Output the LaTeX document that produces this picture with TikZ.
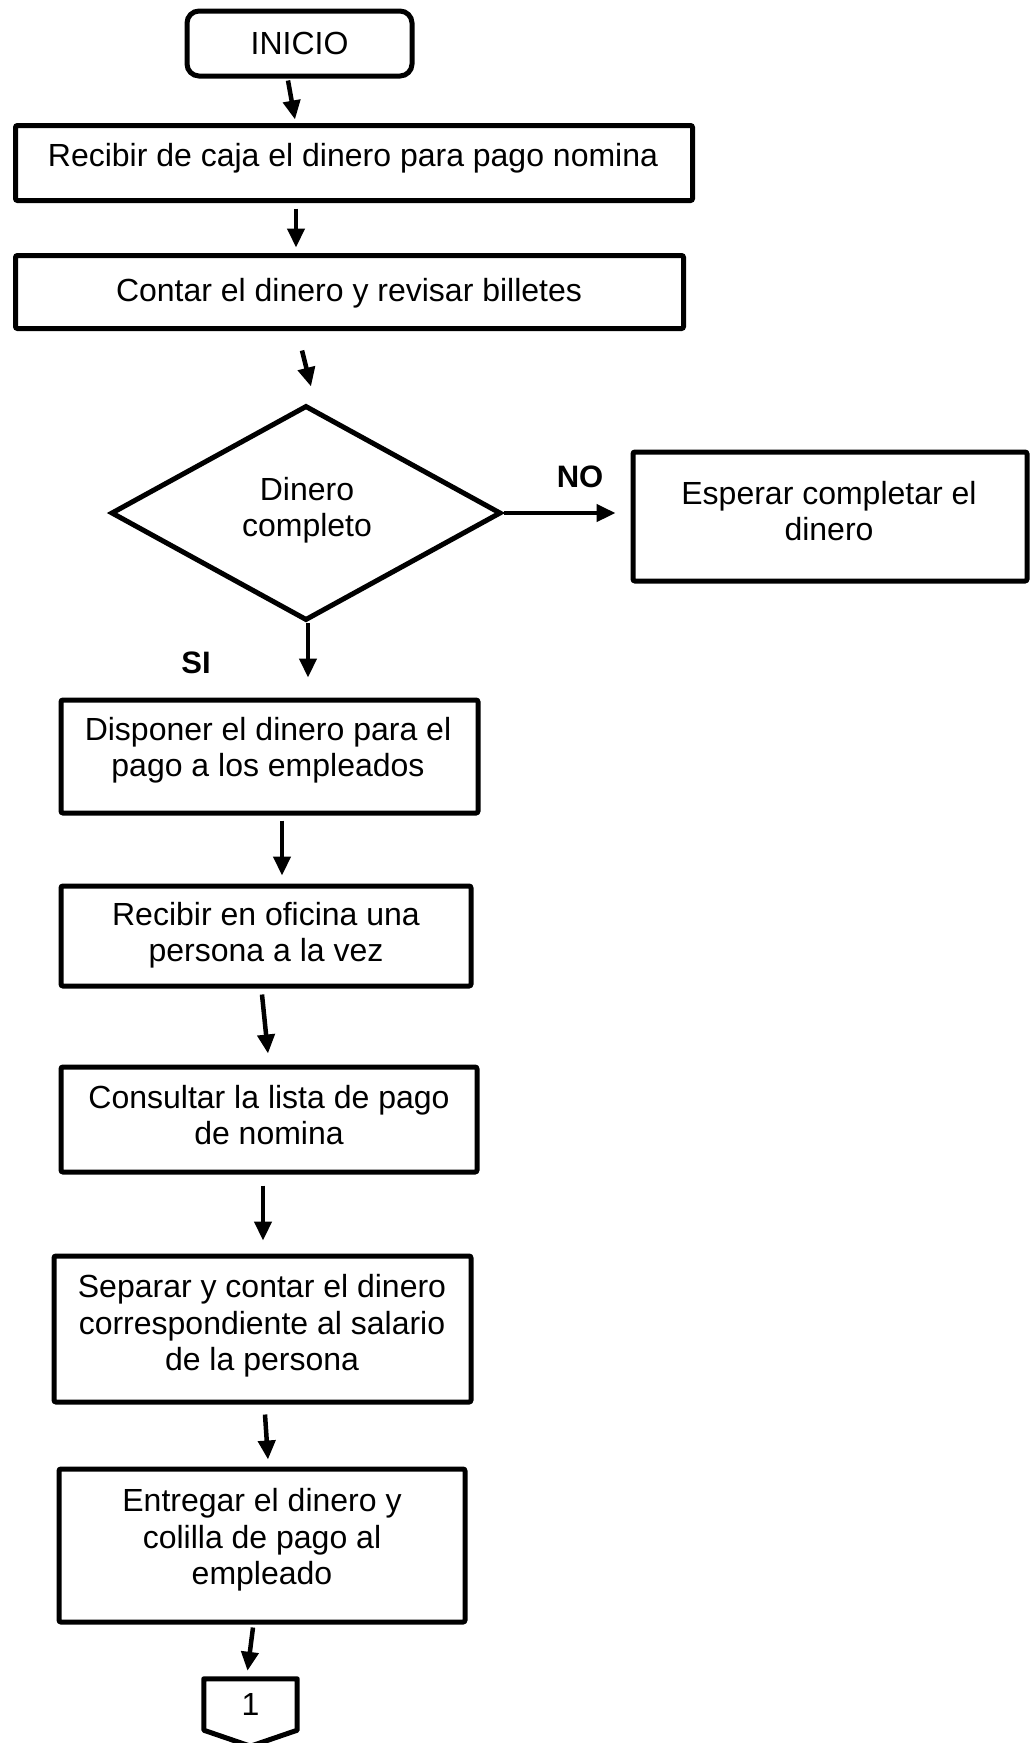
\documentclass[tikz,border=0pt]{standalone}
\usepackage{fontspec}
\setmainfont{Liberation Sans}
\usetikzlibrary{arrows.meta,shapes.geometric,calc}
\begin{document}
\begin{tikzpicture}[x=1pt,y=-1pt,
  every node/.style={font=\fontsize{32}{36.5}\selectfont},
  box/.style={draw, line width=5pt, rounded corners=2pt, inner sep=0pt},
  txt/.style={align=center, inner sep=0pt},
  lbl/.style={font=\fontsize{31}{36}\selectfont\bfseries, inner sep=0pt},
  flow/.style={line width=4.5pt, -{Triangle[length=19pt,width=17pt]}}]
\useasboundingbox (0,0) rectangle (1034,1743);
\clip (0,0) rectangle (1034,1743);

% start terminal
\node[box, rounded corners=12pt, minimum width=225pt, minimum height=65pt] (ini) at (299.5,43.5) {INICIO};

% process boxes
\node[box, minimum width=677pt, minimum height=75pt] (rec) at (354,163) {};
\node[txt] (rec-t) at (353,158) {Recibir de caja el dinero para pago nomina};

\node[box, minimum width=668pt, minimum height=73pt] (con) at (349.5,292) {};
\node[txt] (con-t) at (349,293) {Contar el dinero y revisar billetes};

% decision
\node[draw, line width=5pt, diamond, inner sep=0pt, minimum width=390pt, minimum height=215pt] (dia) at (306,513) {};
\node[txt] (dia-t) at (307,510) {Dinero\\completo};

\node[box, minimum width=394pt, minimum height=129pt] (esp) at (830,516.5) {};
\node[txt] (esp-t) at (829,511) {Esperar completar el\\dinero};

\node[box, minimum width=417pt, minimum height=113pt] (dis) at (269.5,756.5) {};
\node[txt] (dis-t) at (268,750) {Disponer el dinero para el\\pago a los empleados};

\node[box, minimum width=410pt, minimum height=100pt] (ofi) at (266,936) {};
\node[txt] (ofi-t) at (266,935) {Recibir en oficina una\\persona a la vez};

\node[box, minimum width=416pt, minimum height=105pt] (cons) at (269,1119.5) {};
\node[txt] (cons-t) at (269,1115) {Consultar la lista de pago\\de nomina};

\node[box, minimum width=417pt, minimum height=146pt] (sep) at (262.5,1329) {};
\node[txt] (sep-t) at (262,1326) {Separar y contar el dinero\\correspondiente al salario\\de la persona};

\node[box, minimum width=406pt, minimum height=153pt] (ent) at (262,1545.5) {};
\node[txt] (ent-t) at (262,1540) {Entregar el dinero y\\colilla de pago al\\empleado};

% off-page connector
\node[inner sep=0pt, minimum width=93pt, minimum height=51pt] (pg) at (250.5,1704.5) {1};
\draw[line width=5pt, line join=round] (pg.north west) -- (pg.north east) -- (pg.south east)
  -- ($(pg.south)+(0,16)$) -- (pg.south west) -- cycle;

% branch labels
\node[lbl] (no) at (580,477) {NO};
\node[lbl] (si) at (196,663) {SI};

% connectors
\draw[flow] ([xshift=-11.5pt,yshift=-2pt]ini.south) -- ([xshift=-59pt,yshift=3.5pt]rec.north);
\draw[flow] ([xshift=-58pt,yshift=-5.5pt]rec.south) -- ([xshift=-53.5pt,yshift=5.5pt]con.north);
\draw[flow] ([xshift=-47.5pt,yshift=-19.5pt]con.south) -- ([xshift=5pt,yshift=16.5pt]dia.north);
\draw[flow] (dia.east) -- ([xshift=-15pt,yshift=3.5pt]esp.west);
\draw[flow] ([xshift=2pt]dia.south) -- ([xshift=38.5pt,yshift=20pt]dis.north);
\draw[flow] ([xshift=12.5pt,yshift=-5pt]dis.south) -- ([xshift=16pt,yshift=8pt]ofi.north);
\draw[flow] ([xshift=-4pt,yshift=-6pt]ofi.south) -- ([xshift=-1pt,yshift=11pt]cons.north);
\draw[flow] ([xshift=-6pt,yshift=-11pt]cons.south) -- ([xshift=0.5pt,yshift=13pt]sep.north);
\draw[flow] ([xshift=2.5pt,yshift=-10pt]sep.south) -- ([xshift=6pt,yshift=7pt]ent.north);
\draw[flow] ([xshift=-9pt,yshift=-3pt]ent.south) -- ([xshift=-3pt,yshift=8pt]pg.north);
\end{tikzpicture}
\end{document}
